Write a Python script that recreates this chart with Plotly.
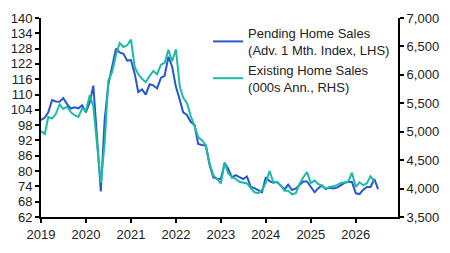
import plotly.graph_objects as go
import pandas as pd

start_month = "2019-01-01"

pending = [100, 101, 103, 107.8, 107.3, 107.2, 108.6, 106.2, 104.5, 105, 104.6, 105.8,
           103, 107, 113.5, 93, 72, 100, 114, 121, 128, 126.5, 126, 123.3,
           123.5, 118, 111, 112, 110, 114, 113.6, 112.4, 116.5, 117.3, 124.8, 121,
           113, 108, 103, 102, 99.3, 98.1, 90.6, 90.2, 90, 82.5, 77.5, 77,
           76.9, 83.2, 81, 77.5, 78.4, 77.6, 76.9, 77.9, 73.8, 73.3, 72.5, 71.7,
           77.6, 76, 75.4, 75.7, 74.4, 72.8, 74.7, 72.6, 73.2, 74.5, 75.9, 75.9,
           74, 71.7, 73.2, 74.4, 72.9, 73.5, 73.2, 73.5, 74.4, 75.4, 75.7, 75.7,
           71.3, 71, 72.6, 73.8, 73.8, 76.9, 72.9]

existing = [5010, 4960, 5260, 5230, 5310, 5480, 5400, 5440, 5340, 5290, 5260, 5410,
            5370, 5640, 5450, 4800, 4100, 4800, 5900, 6050, 6350, 6560, 6490, 6520,
            6620, 6130, 6010, 5930, 5870, 5980, 6070, 6010, 6180, 6210, 6440, 6240,
            6450, 5800, 5600, 5500, 5280, 5100, 4900, 4850, 4760, 4450, 4230, 4170,
            4090, 4460, 4270, 4200, 4170, 4120, 4100, 4090, 4010, 3935, 3920, 3975,
            4100, 4310, 4115, 4120, 4050, 3960, 3960, 3900, 3920, 4080, 4200, 4290,
            4100, 4140, 4080, 4050, 4000, 4030, 4040, 4060, 4100, 4110, 4120, 4280,
            4030, 4110, 4060, 4090, 4215, 4125]

pending_dates = pd.date_range(start_month, periods=len(pending), freq="MS")
existing_dates = pd.date_range(start_month, periods=len(existing), freq="MS")

year_ticks = [str(y) for y in range(2019, 2027)]

BLUE = "#2656d0"
TEAL = "#1cbba3"
FONT = "Liberation Sans"

fig = go.Figure()
fig.add_trace(go.Scatter(x=pending_dates, y=pending, mode="lines",
                         line=dict(color=BLUE, width=2),
                         name="Pending Home Sales<br>(Adv. 1 Mth. Index, LHS)"))
fig.add_trace(go.Scatter(x=existing_dates, y=existing, mode="lines", yaxis="y2",
                         line=dict(color=TEAL, width=2),
                         name="Existing Home Sales<br>(000s Ann., RHS)"))

axis_common = dict(showgrid=False, zeroline=False, showline=True, linecolor="black",
                   linewidth=2, ticks="outside", ticklen=4, tickwidth=2, tickcolor="black",
                   tickfont=dict(family=FONT, size=13, color="#222"))

fig.update_layout(
    width=450, height=253,
    margin=dict(l=38, r=48, t=11, b=33),
    paper_bgcolor="white", plot_bgcolor="white",
    showlegend=True,
    legend=dict(x=0.468, y=1.0, xanchor="left", yanchor="top",
                bgcolor="rgba(0,0,0,0)", font=dict(family=FONT, size=13, color="#222"),
                tracegroupgap=7, itemwidth=30),
    xaxis=dict(type="date", range=["2019-01-01", "2026-12-10"],
               tickvals=[f"{y}-01-01" for y in year_ticks], ticktext=year_ticks,
               **axis_common),
    yaxis=dict(range=[62, 140], dtick=6, tick0=62, **axis_common),
    yaxis2=dict(range=[3500, 7000], dtick=500, tickformat=",", overlaying="y",
                side="right", **axis_common),
)

fig.write_html("out.html")
